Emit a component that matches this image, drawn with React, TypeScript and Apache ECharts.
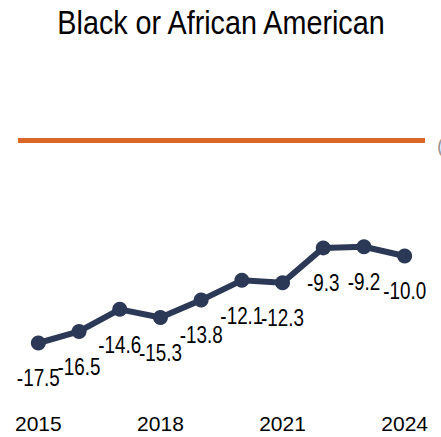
import React, { useEffect, useRef } from "react";
import * as echarts from "echarts";

const years = ["2015", "2016", "2017", "2018", "2019", "2020", "2021", "2022", "2023", "2024"];
const values = [-17.5, -16.5, -14.6, -15.3, -13.8, -12.1, -12.3, -9.3, -9.2, -10.0];
const referenceValue = 0;
const titleText = "Black or African American";

const FONT = "'Liberation Sans', Arial, sans-serif";
const NARROW = 0.82;

export default function App() {
  const ref = useRef<HTMLDivElement>(null);
  useEffect(() => {
    if (!ref.current) return;
    const chart = echarts.init(ref.current, null, { renderer: "svg" });
    chart.setOption({
      animation: false,
      backgroundColor: "#ffffff",
      grid: { left: 18, right: 16, top: 140, bottom: 65 },
      xAxis: {
        type: "category",
        data: years,
        boundaryGap: true,
        axisLine: { show: false },
        axisTick: { show: false },
        axisLabel: {
          interval: 2,
          margin: 41,
          fontFamily: FONT,
          fontSize: 21,
          color: "#000",
        },
      },
      yAxis: {
        type: "value",
        min: -20,
        max: 0,
        show: false,
        splitLine: { show: false },
      },
      series: [
        {
          type: "line",
          data: values,
          symbol: "circle",
          symbolSize: 15,
          lineStyle: { width: 6, color: "#2c3956" },
          itemStyle: { color: "#2c3956" },
          label: { show: false },
          markLine: {
            silent: true,
            symbol: ["none", "none"],
            label: { show: false },
            lineStyle: { color: "#dc6628", width: 5, type: "solid" },
            data: [{ yAxis: referenceValue }],
          },
          z: 3,
        },
        {
          type: "custom",
          data: values.map((v, i) => [i, v]),
          silent: true,
          z: 4,
          renderItem: (params: any, api: any) => {
            const pt = api.coord([api.value(0), api.value(1)]);
            return {
              type: "text",
              x: pt[0],
              y: pt[1] + 35,
              scaleX: NARROW,
              style: {
                text: Number(api.value(1)).toFixed(1),
                fontFamily: FONT,
                fontSize: 23,
                fill: "#000",
                align: "center",
                verticalAlign: "middle",
              },
            };
          },
        },
      ],
      graphic: [
        {
          type: "text",
          x: 221,
          y: 23,
          scaleX: 0.845,
          style: {
            text: titleText,
            fontFamily: FONT,
            fontSize: 34,
            fill: "#000",
            align: "center",
            verticalAlign: "middle",
          },
        },
        {
          type: "text",
          x: 437,
          y: 146,
          style: { text: "(", fontFamily: FONT, fontSize: 20, fill: "#999", verticalAlign: "middle" },
        },
      ],
    });
    return () => chart.dispose();
  }, []);
  return (
    <div
      ref={ref}
      style={{ position: "fixed", left: 0, top: 0, width: 441, height: 437 }}
    />
  );
}
